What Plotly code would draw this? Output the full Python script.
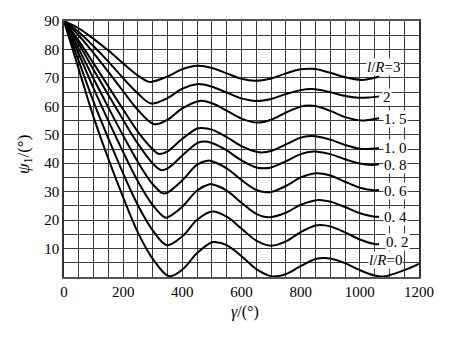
import plotly.graph_objects as go

# psi_1 (deg) against gamma (deg) for several ratios l/R
gamma_3 = [0, 50, 100, 150, 200, 250, 287, 300, 350, 400, 450, 500, 550, 600, 646, 700, 750, 800, 828, 850, 900, 950, 1005, 1035, 1065]
psi_3 = [90, 87.4, 83.7, 79.6, 75.1, 70.8, 68.6, 68.7, 70.5, 73.1, 74.3, 73.5, 71.6, 69.7, 69.0, 69.8, 71.6, 73.0, 73.2, 73.1, 71.8, 70.2, 69.3, 69.7, 70.5]

gamma_2 = [0, 50, 100, 150, 200, 250, 295, 350, 400, 450, 500, 550, 600, 650, 700, 750, 800, 835, 850, 900, 950, 995, 1030, 1065]
psi_2 = [90, 86.1, 81.1, 75.7, 69.9, 64.5, 61.0, 62.9, 66.2, 67.8, 66.9, 64.85, 62.8, 61.9, 62.6, 64.3, 65.7, 66.1, 66.0, 65.0, 63.6, 63.0, 63.1, 63.5]

gamma_15 = [0, 50, 100, 150, 200, 250, 305, 350, 400, 458, 500, 550, 600, 655, 700, 750, 800, 828, 850, 900, 950, 1005, 1035, 1065]
psi_15 = [90, 84.9, 78.7, 72.1, 65.3, 58.7, 53.7, 55.3, 59.3, 61.9, 61.1, 58.5, 55.7, 54.3, 55.3, 57.8, 59.9, 60.3, 60.1, 58.4, 56.2, 55.0, 55.3, 55.8]

gamma_10 = [0, 50, 100, 150, 200, 250, 300, 320, 350, 400, 450, 465, 500, 550, 600, 650, 668, 700, 750, 800, 835, 850, 900, 950, 1000, 1020, 1065]
psi_10 = [90, 83.0, 75.1, 67.0, 58.9, 51.0, 44.9, 43.3, 44.2, 48.6, 52.2, 52.4, 51.8, 49.2, 46.0, 44.0, 43.8, 44.3, 46.6, 49.0, 49.6, 49.5, 48.3, 46.4, 45.1, 45.0, 45.3]

gamma_08 = [0, 50, 100, 150, 200, 250, 300, 328, 350, 400, 450, 470, 500, 550, 600, 650, 675, 700, 750, 800, 842, 900, 950, 1000, 1040, 1065]
psi_08 = [90, 81.9, 72.9, 64.0, 55.2, 46.8, 39.9, 37.6, 38.2, 42.7, 47.1, 47.6, 47.1, 44.5, 41.0, 38.5, 38.2, 38.5, 40.7, 43.2, 44.1, 43.2, 41.4, 39.9, 39.4, 39.6]

gamma_06 = [0, 50, 100, 150, 200, 250, 300, 335, 350, 400, 450, 485, 500, 550, 600, 650, 685, 700, 750, 800, 852, 900, 950, 1000, 1050, 1065]
psi_06 = [90, 80.2, 69.7, 59.6, 49.7, 40.4, 32.6, 29.4, 29.7, 34.0, 39.5, 40.9, 40.7, 38.2, 34.1, 30.6, 29.8, 29.9, 32.0, 35.0, 36.5, 35.7, 33.5, 31.4, 30.5, 30.6]

gamma_04 = [0, 50, 100, 150, 200, 250, 300, 342, 350, 400, 450, 492, 500, 550, 600, 650, 692, 750, 800, 860, 900, 950, 1000, 1050, 1065]
psi_04 = [90, 78.4, 66.3, 54.9, 43.9, 33.6, 25.3, 20.9, 21.0, 24.7, 30.4, 32.6, 32.6, 30.4, 26.1, 22.2, 21.0, 22.6, 25.4, 27.1, 26.5, 24.6, 22.4, 21.2, 21.2]

gamma_02 = [0, 50, 100, 150, 200, 250, 300, 348, 400, 450, 500, 550, 600, 650, 700, 750, 800, 850, 866, 900, 950, 1000, 1050, 1065]
psi_02 = [90, 75.9, 61.6, 48.7, 36.4, 25.2, 16.4, 11.2, 14.3, 20.1, 23.0, 21.2, 17.0, 12.8, 11.0, 12.5, 15.8, 18.1, 18.3, 17.8, 15.7, 13.2, 11.6, 11.5]

gamma_0 = [0, 50, 100, 150, 200, 250, 300, 355, 400, 450, 500, 510, 550, 600, 650, 700, 712, 750, 800, 850, 878, 900, 950, 1000, 1050, 1080, 1100, 1150, 1200]
psi_0 = [90, 73.0, 56.2, 41.5, 28.0, 15.6, 6.4, 0.3, 2.6, 8.4, 12.2, 12.3, 11.2, 7.3, 2.8, 0.3, 0.2, 1.0, 3.8, 6.3, 6.7, 6.5, 4.9, 2.4, 0.5, 0.2, 0.6, 2.4, 4.6]

curves = [
    (gamma_3, psi_3), (gamma_2, psi_2), (gamma_15, psi_15),
    (gamma_10, psi_10), (gamma_08, psi_08), (gamma_06, psi_06),
    (gamma_04, psi_04), (gamma_02, psi_02), (gamma_0, psi_0),
]

# curve labels: text, gamma, psi
label_text = ["<i>l</i>/<i>R</i>=3", "2", "1. 5", "1. 0", "0. 8", "0. 6", "0. 4", "0. 2", "<i>l</i>/<i>R</i>=0"]
label_gamma = [1080, 1092, 1122, 1122, 1122, 1122, 1122, 1126, 1086]
label_psi = [73.8, 63.2, 55.6, 45.4, 39.4, 30.4, 21.0, 12.4, 6.0]

x_ticks = [0, 200, 400, 600, 800, 1000, 1200]
y_ticks = [10, 20, 30, 40, 50, 60, 70, 80, 90]

SERIF = "Liberation Serif"
GRID = "#3c3c3c"

fig = go.Figure()
for gx, gy in curves:
    fig.add_trace(go.Scatter(
        x=gx, y=gy, mode="lines",
        line=dict(color="black", width=2, shape="spline", smoothing=1.0),
        cliponaxis=False, showlegend=False, hoverinfo="skip",
    ))

for txt, gx, gy in zip(label_text, label_gamma, label_psi):
    fig.add_annotation(x=gx, y=gy, xref="x", yref="y", text=txt, showarrow=False,
                       bgcolor="white", borderpad=0,
                       font=dict(family=SERIF, size=15, color="black"))

fig.add_annotation(xref="paper", yref="paper", x=-0.11, y=0.48,
                   xanchor="center", yanchor="middle",
                   text="<i>ψ</i><sub>1</sub>/(°)", showarrow=False, textangle=-90,
                   font=dict(family=SERIF, size=17, color="black"))
fig.add_annotation(xref="paper", yref="paper", x=0.51, y=-0.135,
                   xanchor="center", yanchor="middle",
                   text="<i>γ</i>/(°)", showarrow=False,
                   font=dict(family=SERIF, size=16, color="black"))

fig.update_xaxes(
    range=[0, 1200], tickvals=x_ticks, ticks="", showgrid=True,
    gridcolor=GRID, gridwidth=1,
    minor=dict(dtick=50, tick0=0, showgrid=True, gridcolor=GRID, gridwidth=1),
    showline=True, linecolor="#555", linewidth=2, mirror=True, zeroline=False,
    tickfont=dict(family=SERIF, size=15, color="black"),
)
fig.update_yaxes(
    range=[0, 90], tickvals=y_ticks, ticks="", showgrid=True,
    gridcolor=GRID, gridwidth=1,
    minor=dict(dtick=5, tick0=0, showgrid=True, gridcolor=GRID, gridwidth=1),
    showline=True, linecolor="#333", linewidth=1.5, mirror=True, zeroline=False,
    tickfont=dict(family=SERIF, size=15, color="black"),
)
fig.update_layout(
    width=450, height=338,
    margin=dict(l=64, r=31, t=21, b=61),
    paper_bgcolor="white", plot_bgcolor="white",
)
fig.write_html("out.html")
